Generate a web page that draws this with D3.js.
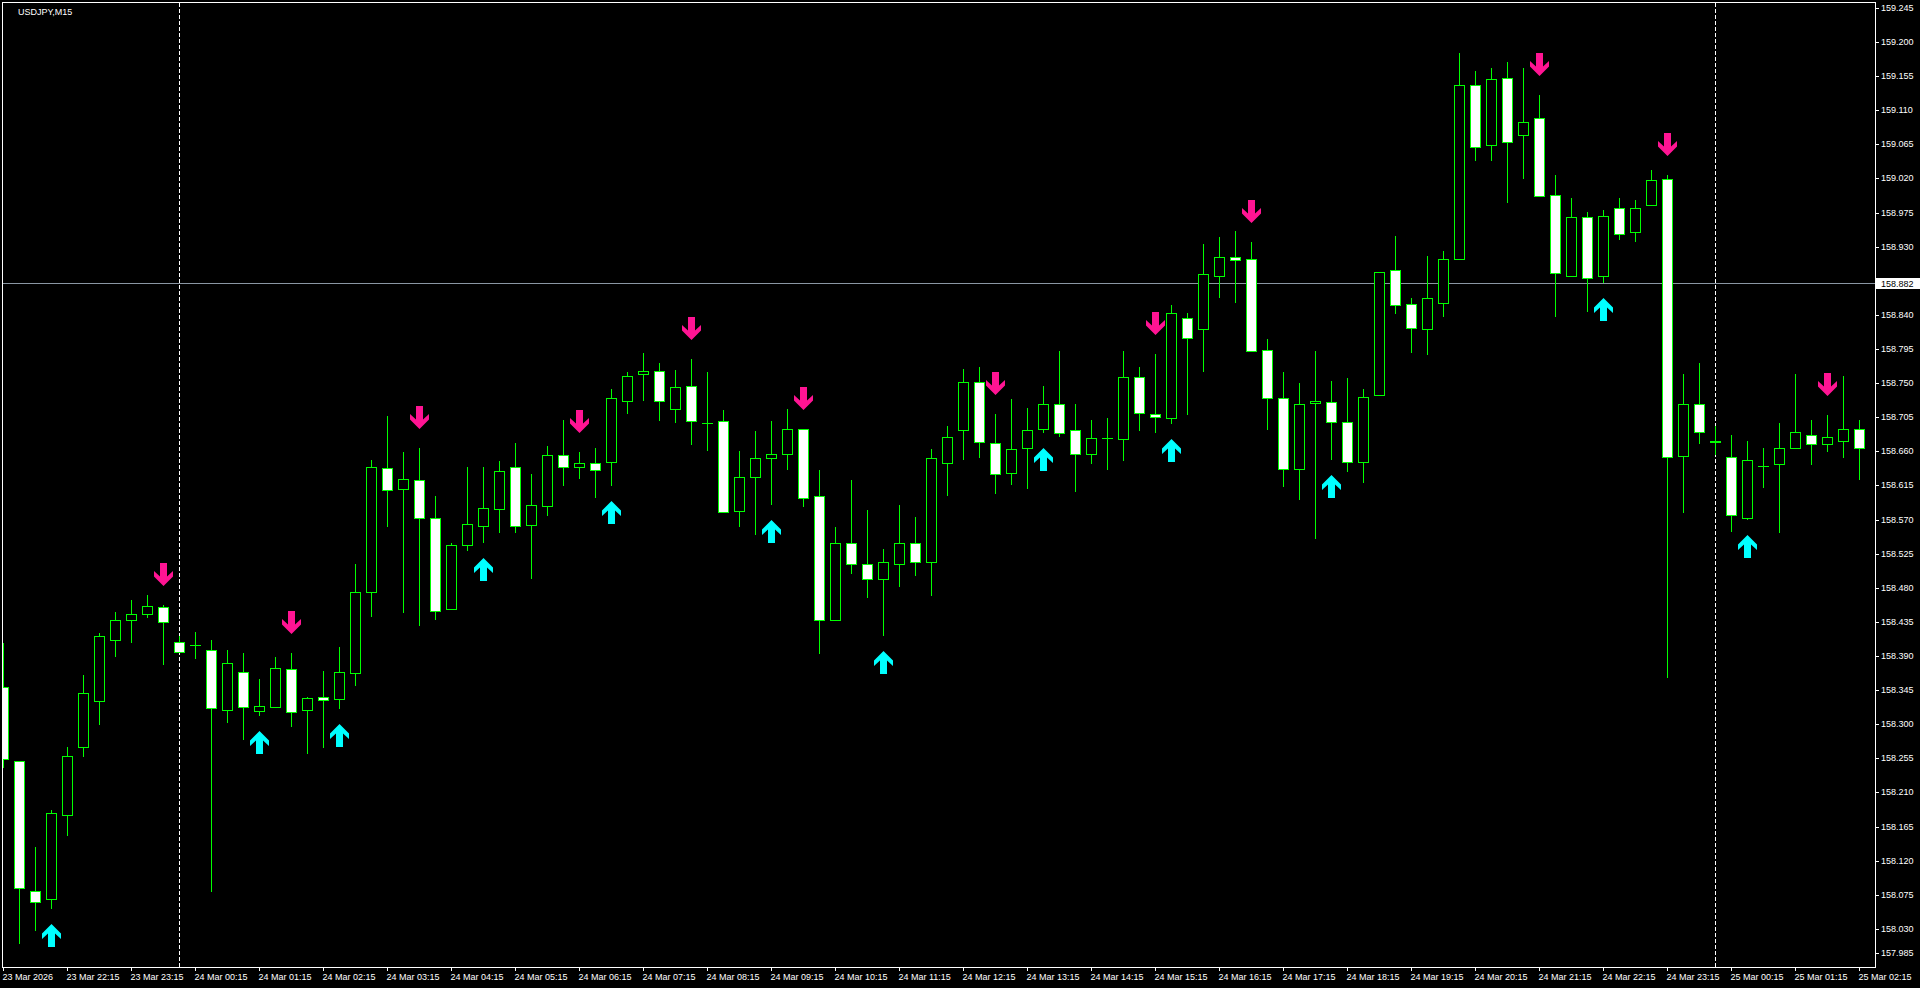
<!DOCTYPE html>
<html><head><meta charset="utf-8">
<script src="https://cdn.jsdelivr.net/npm/d3@7"></script>
<style>html,body{margin:0;padding:0;background:#000;overflow:hidden}</style>
</head><body>
<svg id="c" width="1920" height="988"></svg>
<script>
const symbolLabel = "USDJPY,M15";
const currentPrice = 158.882;

const open = [
158.349,158.252,158.080,158.070,158.180,158.270,158.330,158.411,158.438,158.446,
158.454,158.409,158.404,158.398,158.319,158.369,158.318,158.323,158.373,158.319,
158.336,158.333,158.368,158.475,158.638,158.610,158.622,158.572,158.452,158.536,
158.562,158.584,158.639,158.563,158.588,158.655,158.639,158.644,158.646,158.727,
158.762,158.766,158.716,158.746,158.698,158.700,158.581,158.626,158.651,158.657,
158.689,158.601,158.438,158.539,158.511,158.491,158.512,158.539,158.514,158.644,
158.688,158.751,158.671,158.631,158.664,158.690,158.723,158.688,158.657,158.678,
158.676,158.758,158.709,158.704,158.836,158.821,158.891,158.917,158.914,158.794,
158.730,158.637,158.724,158.725,158.699,158.646,158.734,158.899,158.854,158.822,
158.856,158.914,159.143,159.064,159.152,159.077,159.100,158.998,158.891,158.969,
158.891,158.981,158.949,158.985,159.019,158.654,158.723,158.674,158.653,158.572,
158.640,158.643,158.664,158.681,158.670,158.673,158.690];

const high = [
158.407,158.252,158.138,158.187,158.270,158.365,158.420,158.448,158.464,158.471,
158.457,158.416,158.422,158.411,158.398,158.394,158.360,158.389,158.394,158.336,
158.370,158.402,158.511,158.649,158.707,158.659,158.664,158.601,158.539,158.639,
158.639,158.647,158.671,158.630,158.667,158.701,158.659,158.665,158.742,158.765,
158.790,158.777,158.767,158.782,158.765,158.715,158.661,158.687,158.700,158.716,
158.690,158.635,158.560,158.622,158.582,158.531,158.589,158.574,158.663,158.693,
158.768,158.771,158.709,158.729,158.717,158.746,158.793,158.723,158.701,158.704,
158.792,158.771,158.788,158.853,158.842,158.934,158.943,158.951,158.936,158.808,
158.765,158.750,158.792,158.753,158.757,158.742,158.897,158.944,158.862,158.918,
158.924,159.186,159.162,159.166,159.174,159.166,159.130,159.024,158.994,158.976,
158.979,158.994,158.991,159.031,159.025,158.762,158.776,158.693,158.682,158.673,
158.665,158.697,158.762,158.701,158.708,158.760,158.701];

const low = [
158.244,158.011,158.029,158.058,158.154,158.258,158.300,158.390,158.408,158.442,
158.380,158.395,158.388,158.080,158.303,158.280,158.312,158.323,158.297,158.262,
158.270,158.322,158.352,158.443,158.562,158.448,158.431,158.439,158.452,158.530,
158.540,158.553,158.554,158.493,158.576,158.615,158.625,158.600,158.615,158.710,
158.728,158.702,158.699,158.670,158.662,158.580,158.561,158.551,158.591,158.637,
158.588,158.394,158.438,158.500,158.468,158.418,158.483,158.497,158.470,158.602,
158.650,158.653,158.605,158.617,158.611,158.686,158.680,158.608,158.644,158.637,
158.648,158.688,158.685,158.698,158.709,158.766,158.864,158.857,158.792,158.690,
158.614,158.597,158.546,158.650,158.634,158.620,158.734,158.843,158.791,158.789,
158.838,158.914,159.045,159.045,158.989,159.020,158.997,158.839,158.891,158.845,
158.884,158.940,158.937,158.985,158.362,158.580,158.671,158.657,158.555,158.571,
158.613,158.553,158.664,158.643,158.660,158.653,158.623];

const close = [
158.254,158.084,158.066,158.183,158.258,158.341,158.416,158.437,158.446,158.456,
158.435,158.395,158.404,158.322,158.381,158.323,158.324,158.374,158.316,158.334,
158.332,158.369,158.475,158.639,158.609,158.623,158.572,158.450,158.536,158.564,
158.585,158.634,158.562,158.589,158.655,158.639,158.644,158.636,158.731,158.760,
158.766,158.726,158.745,158.700,158.698,158.580,158.626,158.651,158.657,158.690,
158.599,158.438,158.539,158.511,158.491,158.514,158.539,158.514,158.651,158.679,
158.751,158.672,158.630,158.663,158.688,158.722,158.684,158.657,158.677,158.678,
158.758,158.710,158.705,158.843,158.810,158.894,158.916,158.912,158.792,158.730,
158.637,158.722,158.727,158.699,158.646,158.732,158.897,158.853,158.823,158.862,
158.914,159.143,159.062,159.151,159.068,159.095,158.997,158.895,158.969,158.889,
158.970,158.947,158.981,159.018,158.653,158.722,158.685,158.672,158.576,158.648,
158.640,158.664,158.685,158.670,158.679,158.690,158.665];

// signal arrows (bar indices)
const sellSignals = [10,18,26,36,43,50,62,72,78,96,104,114];
const buySignals  = [3,16,21,30,38,48,55,65,73,83,100,109];

// day separators (bar index of 00:00)
const separators = [11,107];

const priceTicks = [159.245,159.200,159.155,159.110,159.065,159.020,158.975,158.930,158.885,158.840,
158.795,158.750,158.705,158.660,158.615,158.570,158.525,158.480,158.435,158.390,158.345,158.300,
158.255,158.210,158.165,158.120,158.075,158.030,157.985];

const timeTickIdx = [0,4,8,12,16,20,24,28,32,36,40,44,48,52,56,60,64,68,72,76,80,84,88,92,96,100,104,108,112,116];
const timeLabels = ["23 Mar 2026","23 Mar 22:15","23 Mar 23:15","24 Mar 00:15","24 Mar 01:15","24 Mar 02:15",
"24 Mar 03:15","24 Mar 04:15","24 Mar 05:15","24 Mar 06:15","24 Mar 07:15","24 Mar 08:15","24 Mar 09:15",
"24 Mar 10:15","24 Mar 11:15","24 Mar 12:15","24 Mar 13:15","24 Mar 14:15","24 Mar 15:15","24 Mar 16:15",
"24 Mar 17:15","24 Mar 18:15","24 Mar 19:15","24 Mar 20:15","24 Mar 21:15","24 Mar 22:15","24 Mar 23:15",
"25 Mar 00:15","25 Mar 01:15","25 Mar 02:15"];

const FONT = "'Liberation Sans', Arial, sans-serif";
const LIME = "#00ff00";

const svg = d3.select('#c');
svg.append('rect').attr('width',1920).attr('height',988).attr('fill','#000');

const y = d3.scaleLinear().domain([157.985,159.245]).range([963,7.9]).interpolate(d3.interpolateRound);
const x = d3.scaleLinear().domain([0,116]).range([3,1859]).interpolate(d3.interpolateRound);

svg.append('defs').append('clipPath').attr('id','plot')
  .append('rect').attr('x',3).attr('y',3).attr('width',1872).attr('height',964);

const plot = svg.append('g').attr('clip-path','url(#plot)');

// separators
plot.selectAll('line.sep').data(separators).join('line')
  .attr('class','sep')
  .attr('x1',d=>x(d)+0.5).attr('x2',d=>x(d)+0.5)
  .attr('y1',3).attr('y2',967)
  .attr('stroke','#fff').attr('stroke-width',1).attr('stroke-dasharray','4,2');

// current price line
plot.append('line')
  .attr('x1',3).attr('x2',1875)
  .attr('y1',y(currentPrice)+0.5).attr('y2',y(currentPrice)+0.5)
  .attr('stroke','#8a96a3').attr('stroke-width',1);

// candles
const idx = d3.range(open.length);
const cg = plot.append('g').attr('shape-rendering','crispEdges');
cg.selectAll('line.wick').data(idx).join('line')
  .attr('class','wick')
  .attr('x1',i=>x(i)+0.5).attr('x2',i=>x(i)+0.5)
  .attr('y1',i=>y(high[i])).attr('y2',i=>y(low[i])+1)
  .attr('stroke',LIME).attr('stroke-width',1);

idx.forEach(i=>{
  const top = y(Math.max(open[i],close[i]));
  const bot = y(Math.min(open[i],close[i]));
  const c = x(i);
  if (bot - top < 1) {
    cg.append('line')
      .attr('x1',c-5).attr('x2',c+6)
      .attr('y1',top+0.5).attr('y2',top+0.5)
      .attr('stroke',LIME).attr('stroke-width',1);
  } else {
    cg.append('rect')
      .attr('x',c-4.5).attr('y',top+0.5)
      .attr('width',10).attr('height',bot-top)
      .attr('fill', close[i] < open[i] ? '#fff' : '#000')
      .attr('stroke',LIME).attr('stroke-width',1);
  }
});

// arrows
const upPath = "M0,0 L9.5,9.5 L9.5,15 L3.5,9.5 L3.5,23 L-3.5,23 L-3.5,9.5 L-9.5,15 L-9.5,9.5 Z";
const downPath = "M0,0 L9.5,-9.5 L9.5,-15 L3.5,-9.5 L3.5,-23 L-3.5,-23 L-3.5,-9.5 L-9.5,-15 L-9.5,-9.5 Z";
plot.selectAll('path.sell').data(sellSignals).join('path')
  .attr('class','sell').attr('d',downPath)
  .attr('transform',i=>`translate(${x(i)+0.5},${y(high[i])-19})`)
  .attr('fill','#ff1493');
plot.selectAll('path.buy').data(buySignals).join('path')
  .attr('class','buy').attr('d',upPath)
  .attr('transform',i=>`translate(${x(i)+0.5},${y(low[i])+16})`)
  .attr('fill','#00ffff');

// frame
svg.append('rect').attr('x',2.5).attr('y',2.5).attr('width',1873).attr('height',965)
  .attr('fill','none').attr('stroke','#fff').attr('stroke-width',1);

// right price axis
const ya = d3.axisRight(y).tickValues(priceTicks).tickSize(4).tickPadding(2).tickFormat(d3.format('.3f'));
const gy = svg.append('g').attr('transform','translate(1875,0)').call(ya);
gy.select('.domain').remove();
gy.selectAll('.tick line').attr('stroke','#fff');
gy.selectAll('.tick text').attr('fill','#fff').attr('font-family',FONT).attr('font-size',9);
gy.selectAll('.tick').filter(d=>y(d) > 953).attr('transform','translate(0,953.5)');

// bottom time axis
const labelOf = {};
timeTickIdx.forEach((k,j)=>labelOf[k]=timeLabels[j]);
const xa = d3.axisBottom(x).tickValues(timeTickIdx).tickSize(4).tickPadding(3).tickFormat(d=>labelOf[d]);
const gx = svg.append('g').attr('transform','translate(0,967)').call(xa);
gx.select('.domain').remove();
gx.selectAll('.tick line').attr('stroke','#fff');
gx.selectAll('.tick text').attr('fill','#fff').attr('font-family',FONT).attr('font-size',9)
  .attr('text-anchor','start').attr('x',-1);

// current price label
const py = y(currentPrice);
svg.append('rect').attr('x',1876).attr('y',py-5).attr('width',44).attr('height',11).attr('fill','#fff');
svg.append('text').attr('x',1881).attr('y',py+3.5).attr('font-family',FONT).attr('font-size',9)
  .attr('fill','#000').text(d3.format('.3f')(currentPrice));

// symbol label
svg.append('text').attr('x',18).attr('y',14.5).attr('font-family',FONT).attr('font-size',9)
  .attr('fill','#fff').text(symbolLabel);
</script>
</body></html>
